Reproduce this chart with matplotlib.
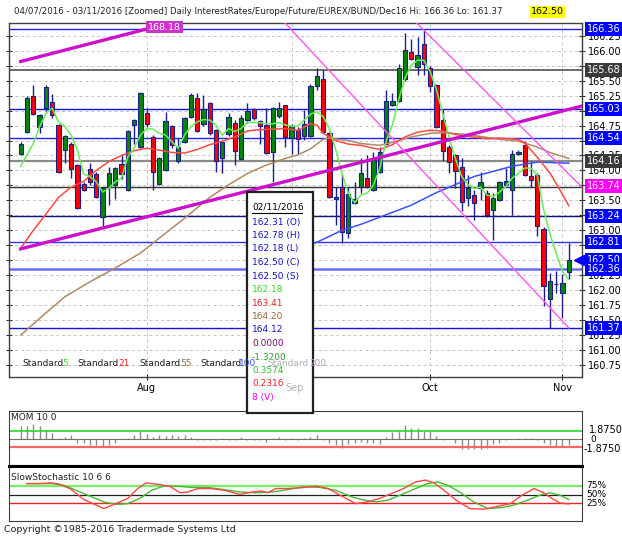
import matplotlib
matplotlib.use('Agg')
import matplotlib.pyplot as plt
import matplotlib.transforms as mtransforms
from matplotlib.patches import Rectangle
from matplotlib.lines import Line2D
import numpy as np

plt.rcParams['font.family'] = ['DejaVu Sans']

# ---- daily bars 04/07/2016 .. 02/11/2016 (bar index 0..87) ----
opens = [164.27, 164.65, 165.25, 164.73, 165.04, 165.14, 164.76, 164.35, 164.45, 164.09,
         163.77, 164.03, 163.94, 163.22, 163.72, 163.76, 164.11, 163.68, 164.76, 164.39,
         164.96, 164.56, 163.78, 164.01, 164.74, 164.15, 164.48, 164.89, 165.21, 164.78,
         165.12, 164.68, 164.21, 164.61, 164.80, 164.19, 164.84, 165.02, 164.83, 164.76,
         164.30, 164.91, 165.09, 164.55, 164.68, 164.58, 164.58, 165.41, 165.52, 164.62,
         163.52, 163.73, 162.95, 163.46, 163.73, 163.88, 163.67, 163.98, 164.44, 165.10,
         165.16, 165.52, 165.98, 165.73, 166.11, 165.71, 165.43, 164.84, 164.39, 164.25,
         164.06, 163.54, 163.59, 163.71, 163.63, 163.34, 163.51, 163.76, 163.68, 164.28,
         164.42, 163.90, 163.92, 163.03, 161.86, 162.10, 161.95, 162.31]
highs = [164.48, 165.25, 165.42, 164.95, 165.42, 165.27, 164.78, 164.60, 164.47, 164.10,
         163.80, 164.12, 163.98, 163.73, 164.06, 164.06, 164.27, 164.68, 164.86, 165.31,
         165.04, 164.60, 164.22, 164.98, 164.76, 164.55, 164.90, 165.30, 165.30, 165.26,
         165.14, 164.70, 164.49, 164.96, 164.85, 164.92, 165.13, 165.04, 164.85, 165.04,
         165.06, 165.15, 165.10, 164.77, 164.72, 165.01, 165.45, 165.71, 165.68, 164.64,
         163.73, 163.94, 163.73, 163.81, 164.20, 164.26, 164.31, 164.40, 165.34, 165.29,
         165.77, 166.29, 166.20, 166.23, 166.36, 165.75, 165.45, 165.03, 164.42, 164.27,
         164.20, 163.92, 163.67, 163.98, 163.68, 163.62, 163.82, 164.04, 164.35, 164.35,
         164.50, 164.16, 163.95, 163.05, 162.29, 162.32, 162.27, 162.78]
lows = [164.25, 164.62, 164.93, 164.62, 165.00, 164.87, 163.96, 164.12, 163.87, 163.36,
        163.65, 163.76, 163.54, 163.07, 163.42, 163.52, 163.85, 163.66, 164.45, 164.37,
        164.73, 163.68, 163.76, 163.99, 164.38, 164.13, 164.46, 164.87, 164.64, 164.75,
        164.59, 163.98, 163.95, 164.58, 164.09, 164.17, 164.80, 164.85, 164.45, 164.27,
        163.81, 164.88, 164.40, 164.27, 164.28, 164.51, 164.56, 165.35, 164.62, 163.54,
        163.09, 162.79, 162.87, 163.44, 163.62, 163.70, 163.65, 163.96, 164.42, 165.08,
        165.14, 165.50, 165.84, 165.59, 165.59, 165.31, 164.71, 164.15, 163.95, 163.70,
        163.33, 163.40, 163.17, 163.50, 163.23, 162.84, 163.49, 163.74, 163.26, 164.25,
        163.90, 163.73, 162.90, 161.74, 161.37, 161.95, 161.53, 162.18]
closes = [164.45, 165.21, 164.95, 164.92, 165.40, 164.93, 163.98, 164.57, 164.02, 163.38,
          163.67, 163.81, 163.56, 163.71, 163.96, 164.04, 163.94, 164.66, 164.84, 165.30,
          164.78, 163.98, 164.20, 164.83, 164.42, 164.39, 164.87, 165.26, 164.66, 165.02,
          164.63, 164.15, 164.47, 164.89, 164.32, 164.87, 165.00, 164.87, 164.75, 164.29,
          165.04, 165.05, 164.56, 164.75, 164.52, 164.77, 165.41, 165.57, 164.64, 163.56,
          163.56, 162.98, 163.60, 163.53, 163.95, 163.73, 164.17, 164.31, 165.16, 165.16,
          165.71, 166.01, 165.86, 165.93, 165.77, 165.41, 164.73, 164.32, 164.14, 163.99,
          163.48, 163.71, 163.46, 163.80, 163.26, 163.54, 163.80, 163.83, 164.27, 164.30,
          163.92, 163.84, 163.07, 162.07, 162.16, 162.11, 162.12, 162.50]

# moving averages
ma5 = [164.07, 164.26, 164.45, 164.73, 164.95, 165.04, 164.81, 164.74, 164.59, 164.34,
       163.94, 163.90, 163.81, 163.64, 163.70, 163.81, 163.87, 164.23, 164.37, 164.59,
       164.70, 164.69, 164.62, 164.59, 164.48, 164.37, 164.59, 164.73, 164.81, 164.85,
       164.84, 164.76, 164.59, 164.70, 164.65, 164.70, 164.81, 164.80, 164.80, 164.78,
       164.78, 164.80, 164.76, 164.74, 164.74, 164.84, 164.94, 164.98, 164.90, 164.70,
       164.35, 163.95, 163.62, 163.46, 163.59, 163.62, 163.76, 164.04, 164.48, 164.76,
       165.18, 165.54, 165.76, 165.84, 165.84, 165.65, 165.35, 164.95, 164.55, 164.20,
       163.90, 163.76, 163.70, 163.72, 163.59, 163.56, 163.64, 163.73, 163.87, 163.95,
       164.04, 164.04, 163.92, 163.35, 162.95, 162.62, 162.31, 162.18]
ma21_x = [0, 2, 4, 6, 8, 10, 12, 14, 16, 18, 20, 22, 24, 26, 28, 30, 32, 34, 36, 38, 40, 42,
          44, 46, 47, 48, 50, 52, 54, 56, 57, 59, 61, 63, 65, 67, 69, 71, 74, 76, 79, 80, 82,
          84, 86, 87]
ma21 = [162.70, 163.00, 163.27, 163.55, 163.72, 163.82, 164.00, 164.15, 164.25, 164.33,
        164.37, 164.34, 164.30, 164.29, 164.35, 164.43, 164.49, 164.56, 164.66, 164.68,
        164.69, 164.70, 164.67, 164.78, 164.76, 164.62, 164.50, 164.44, 164.42, 164.37,
        164.35, 164.43, 164.56, 164.64, 164.67, 164.66, 164.60, 164.57, 164.53, 164.54,
        164.52, 164.46, 164.22, 163.96, 163.60, 163.41]
ma55_x = [0, 4, 7, 11, 15, 19, 22, 26, 30, 33, 36, 39, 42, 44, 46, 48, 49, 52, 54, 57, 59,
          62, 65, 67, 71, 76, 79, 82, 84, 87]
ma55 = [161.25, 161.62, 161.89, 162.14, 162.37, 162.62, 162.87, 163.20, 163.55, 163.76,
        163.95, 164.09, 164.20, 164.26, 164.36, 164.52, 164.54, 164.50, 164.45, 164.42,
        164.47, 164.56, 164.62, 164.63, 164.60, 164.52, 164.49, 164.39, 164.30, 164.20]
ma100_x = [40, 44, 47, 51, 54, 57, 62, 66, 72, 78, 82, 87]
ma100 = [162.50, 162.68, 162.80, 163.00, 163.10, 163.22, 163.42, 163.63, 163.90, 164.07,
         164.14, 164.12]

# momentum (10) per bar
mom = [3.1, 3.1, 3.46, 3.1, 2.16, 1.3, 0.2, 0.58, 0.87, -0.87,
       -1.0, -1.44, -1.44, -1.6, -1.44, -0.87, -0.1, 0.2, 0.94, 1.87,
       1.08, 0.58, 0.94, 0.72, 0.87, 0.72, 0.94, 0.58, -0.14, -0.3,
       -0.3, -0.14, 0.2, -0.14, -0.3, 0.43, -0.14, -0.3, -0.14, -0.72,
       0.2, 0.58, -0.14, 0.2, -0.14, 0.2, 0.58, 0.94, -0.14, -1.0,
       -1.44, -2.16, -1.23, -1.0, -0.72, -1.0, -0.87, -1.23, 0.58, 1.66,
       2.16, 3.3, 2.6, 2.6, 1.87, 1.87, 0.72, -0.14, 0.0, -1.0,
       -2.3, -2.45, -2.45, -2.3, -2.16, -1.23, -0.87, -0.3, 0.0, 0.2,
       0.3, 0.2, -0.14, -1.0, -1.44, -1.6, -1.6, -1.32]

# slow stochastic 10 6 6
stk_x = [1.0, 3.0, 5.0, 6.2, 7.8, 10.0, 11.6, 13.2, 15.1, 17.0, 18.6, 19.9, 22.1, 23.7, 25.3,
         26.5, 28.1, 30.3, 32.3, 34.8, 36.7, 38.3, 39.2, 40.5, 42.4, 44.9, 46.9, 48.8, 50.7,
         53.2, 55.1, 57.0, 58.9, 60.8, 62.7, 64.3, 65.6, 67.2, 69.1, 71.3, 73.5, 75.4, 77.7,
         79.6, 81.5, 83.0, 84.3, 85.6, 87.0]
stk = [0.81, 0.81, 0.83, 0.79, 0.67, 0.36, 0.23, 0.10, 0.24, 0.39, 0.67, 0.83, 0.78, 0.73,
       0.55, 0.57, 0.67, 0.67, 0.62, 0.50, 0.57, 0.60, 0.55, 0.67, 0.67, 0.70, 0.74, 0.67,
       0.48, 0.24, 0.29, 0.39, 0.53, 0.67, 0.86, 0.91, 0.83, 0.62, 0.34, 0.10, 0.08, 0.15,
       0.24, 0.48, 0.67, 0.55, 0.39, 0.26, 0.2316]
std_x = [1.0, 5.0, 6.9, 8.8, 11.3, 13.2, 15.1, 17.0, 18.9, 20.8, 22.7, 24.6, 27.2, 29.7, 32.3,
         34.8, 37.3, 39.9, 42.4, 45.0, 47.5, 50.0, 52.6, 54.5, 56.4, 58.3, 60.2, 62.7, 64.6,
         66.2, 67.8, 69.7, 71.9, 74.2, 76.4, 78.3, 80.5, 82.4, 84.0, 85.6, 87.0]
std = [0.81, 0.81, 0.76, 0.62, 0.43, 0.29, 0.22, 0.24, 0.39, 0.62, 0.74, 0.74, 0.70, 0.70,
       0.64, 0.57, 0.55, 0.57, 0.64, 0.72, 0.70, 0.62, 0.43, 0.34, 0.29, 0.34, 0.48, 0.67,
       0.81, 0.86, 0.76, 0.57, 0.29, 0.10, 0.13, 0.20, 0.34, 0.48, 0.55, 0.48, 0.3574]

# levels and trend lines
h_levels = [166.36, 165.68, 165.03, 164.54, 164.16, 163.73, 163.24, 162.81, 162.36, 161.37]
h_colors = ['#2020ff', '#505050', '#1010e0', '#2020ff', '#8a8a8a', '#303030', '#101080',
            '#3030ff', '#6a6aff', '#1010e0']
h_widths = [1.0, 1.2, 1.0, 1.0, 1.6, 1.0, 1.0, 1.0, 1.8, 1.0]
price_tags = [166.36, 165.68, 165.03, 164.54, 164.16, 163.74, 163.24, 162.81, 162.50, 162.36, 161.37]
tag_colors = ['#0000ff', '#3a3a3a', '#0000ff', '#0000ff', '#3a3a3a', '#ff00ff', '#0000ff',
              '#0000ff', '#0000ff', '#0000ff', '#0000ff']
thick_x = [0, 87]
upper_chan = [165.82, 168.18]
lower_chan = [162.69, 165.02]
thin_a_x = [41.8, 87.0]
thin_a = [166.48, 161.37]
thin_b_x = [62.7, 89.1]
thin_b = [166.48, 163.72]

month_pos = [20, 43, 65, 86]
month_names = ['Aug', '', 'Oct', 'Nov']

tooltip = [('162.31 (O)', '#1010d0'), ('162.78 (H)', '#1010d0'), ('162.18 (L)', '#1010d0'),
           ('162.50 (C)', '#1010d0'), ('162.50 (S)', '#1010d0'), ('162.18', '#33dd33'),
           ('163.41', '#ee2020'), ('164.20', '#9a6a40'), ('164.12', '#1010d0'),
           ('0.0000', '#800080'), ('-1.3200', '#2a9a2a'), ('0.3574', '#33bb33'),
           ('0.2316', '#ee2020'), ('8 (V)', '#ff00ff')]

W, H = 622, 538


def rect(l, t, r, b):
    return [l / W, 1 - b / H, (r - l) / W, (b - t) / H]


def fx(x):
    return x / W


def fy(y):
    return 1 - y / H


fig = plt.figure(figsize=(6.22, 5.38), dpi=100)
fig.patch.set_facecolor('white')

# ---------------- main price panel ----------------
ax = fig.add_axes(rect(9, 23, 582, 377))
ax.set_xlim(-1.86, 89.1)
ax.set_ylim(160.55, 166.463)
idx = np.arange(len(closes))


def price_fmt(v, pos):
    # tick labels that sit right under a price tag are hidden by it
    if min(abs(v - p) for p in price_tags) < 0.09:
        return ''
    return '%.2f' % v


ax.set_yticks(np.arange(160.75, 166.3, 0.25))
ax.yaxis.set_major_formatter(matplotlib.ticker.FuncFormatter(price_fmt))
ax.tick_params(axis='y', which='both', left=True, right=True, labelleft=False,
               labelright=True, direction='inout', length=5, labelsize=7, pad=2,
               color='#303030')
ax.set_xticks(month_pos)
ax.set_xticklabels(month_names)
ax.tick_params(axis='x', direction='inout', length=5, labelsize=7, pad=2, color='#303030')
ax.grid(True, axis='both', ls=(0, (3, 3)), color='#c4c4c4', lw=0.7)
for s in ax.spines.values():
    s.set_color('#404040')
    s.set_linewidth(1.0)

for lv, c, w in zip(h_levels, h_colors, h_widths):
    ax.axhline(lv, color=c, lw=w, zorder=2)

navy = '#1c1c8c'
lo_b = np.minimum(opens, closes)
hi_b = np.maximum(opens, closes)
body_col = ['#008800' if c >= o else '#ff0000' for o, c in zip(opens, closes)]
ax.vlines(idx, lows, highs, color=navy, lw=1.0, zorder=3)
ax.bar(idx, np.maximum(hi_b - lo_b, 0.006), bottom=lo_b, width=0.68, color=body_col,
       edgecolor=navy, linewidth=0.8, zorder=4)

ax.plot(ma100_x, ma100, color='#3a50ff', lw=1.1, zorder=5)
ax.plot(ma55_x, ma55, color='#b08a60', lw=1.1, zorder=5)
ax.plot(ma21_x, ma21, color='#ff4a40', lw=1.1, zorder=5)
ax.plot(idx, ma5, color='#66ee55', lw=1.1, zorder=6)

ax.plot(thick_x, upper_chan, color='#cc11cc', lw=2.4, zorder=7)
ax.plot([0, 89.1], [lower_chan[0], lower_chan[0] + (lower_chan[1] - lower_chan[0]) * 89.1 / 87],
        color='#cc11cc', lw=2.4, zorder=7)
ax.plot(thin_a_x, thin_a, color='#ff55ee', lw=1.0, zorder=7)
ax.plot(thin_b_x, thin_b, color='#ff55ee', lw=1.0, zorder=7)

# price tags on the right axis
blend = mtransforms.blended_transform_factory(ax.transAxes, ax.transData)
for p, c in zip(price_tags, tag_colors):
    ax.text(1 + 4.5 / 573, p, '%.2f' % p, transform=blend, fontsize=7, color='white',
            va='center', ha='left', clip_on=False, zorder=20,
            bbox=dict(boxstyle='square,pad=0.2', fc=c, ec='none'))
ax.plot([1 - 3 / 573], [162.50], marker='<', ms=7, color='#0000ff', transform=blend,
        clip_on=False, zorder=21)

# ---------------- momentum panel ----------------
ax2 = fig.add_axes(rect(9, 411, 582, 465))
ax2.set_xlim(-1.86, 89.1)
ax2.set_ylim(-6.09, 6.56)
ax2.vlines(idx, 0, mom, color='#8c8c8c', lw=1.0)
ax2.axhline(0, color='#707070', lw=0.8)
ax2.axhline(1.875, color='#22dd22', lw=1.2)
ax2.axhline(-1.875, color='#ff6666', lw=1.6)
ax2.set_xticks([])
ax2.set_yticks([])
for s in ax2.spines.values():
    s.set_color('#404040')

# ---------------- slow stochastic panel ----------------
ax3 = fig.add_axes(rect(9, 466, 582, 521))
ax3.set_xlim(-1.86, 89.1)
ax3.set_ylim(-0.253, 1.31)
ax3.axhline(0.75, color='#77ee66', lw=1.6)
ax3.axhline(0.50, color='#202020', lw=0.9)
ax3.axhline(0.25, color='#ee2222', lw=1.0)
ax3.plot(std_x, std, color='#44bb33', lw=1.0)
ax3.plot(stk_x, stk, color='#ff4444', lw=1.0)
ax3.set_xticks([])
ax3.set_yticks([])
for s in ax3.spines.values():
    s.set_color('#404040')
ax3.spines['top'].set_linewidth(2.2)
ax3.spines['top'].set_color('black')

# ---------------- texts ----------------
fig.text(fx(14), fy(12), '04/07/2016 - 03/11/2016 [Zoomed] Daily '
         'InterestRates/Europe/Future/EUREX/BUND/Dec16 Hi: 166.36 Lo: 161.37',
         fontsize=6.2, va='center', ha='left', color='#202020')
fig.text(fx(531), fy(12), '162.50', fontsize=6.8, va='center', ha='left', color='black',
         bbox=dict(boxstyle='square,pad=0.15', fc='#ffff00', ec='none'))
fig.text(fx(148), fy(27), '168.18', fontsize=6.8, va='center', ha='left', color='white',
         zorder=10, bbox=dict(boxstyle='square,pad=0.2', fc='#cc33cc', ec='none'))

fig.text(fx(11), fy(418), 'MOM 10 0', fontsize=6.5, va='center', color='#202020')
fig.text(fx(11), fy(477), 'SlowStochastic 10 6 6', fontsize=6.5, va='center', color='#202020')
fig.text(fx(589), fy(430), '1.8750', fontsize=7, va='center')
fig.text(fx(590), fy(439), '0', fontsize=6.5, va='center')
fig.text(fx(584), fy(448.5), '-1.8750', fontsize=7, va='center')
fig.text(fx(586), fy(485.5), '75%', fontsize=6.5, va='center')
fig.text(fx(586), fy(494.5), '50%', fontsize=6.5, va='center')
fig.text(fx(586), fy(503.5), '25%', fontsize=6.5, va='center')
fig.text(fx(4), fy(529), 'Copyright \u00a91985-2016 Tradermade Systems Ltd', fontsize=6.8,
         va='center', color='#202020')

# data window box
box = Rectangle((fx(247), fy(413)), 66 / W, 221 / H, transform=fig.transFigure,
                fc='white', ec='#202020', lw=1.6, zorder=30)
fig.add_artist(box)
fig.text(fx(252), fy(207), '02/11/2016', fontsize=6.5, va='center', color='black', zorder=31)
fig.add_artist(Line2D([fx(252), fx(302)], [fy(213), fy(213)], transform=fig.transFigure,
                      color='black', lw=0.8, zorder=31))
for k, (t, c) in enumerate(tooltip):
    fig.text(fx(252), fy(222 + 13.5 * k), t, fontsize=6.5, va='center', color=c, zorder=31)

# indicator legend along the bottom of the price panel
legend_parts = [('Standard', '#202020', 22), ('5', '#33dd33', 62), ('Standard', '#202020', 77),
                ('21', '#ee2020', 118), ('Standard', '#202020', 139), ('55', '#9a6a40', 180),
                ('Standard', '#202020', 200), ('100', '#3a50ff', 239),
                ('Standard', '#b0b0b0', 267), ('200', '#c79ac7', 309)]
for t, c, x in legend_parts:
    fig.text(fx(x), fy(364), t, fontsize=6.5, va='center', color=c, zorder=32)
fig.text(fx(295), fy(383), 'Sep', fontsize=7, va='top', ha='center', color='#b4b4b4', zorder=32)

fig.savefig('out.png', dpi=100)
